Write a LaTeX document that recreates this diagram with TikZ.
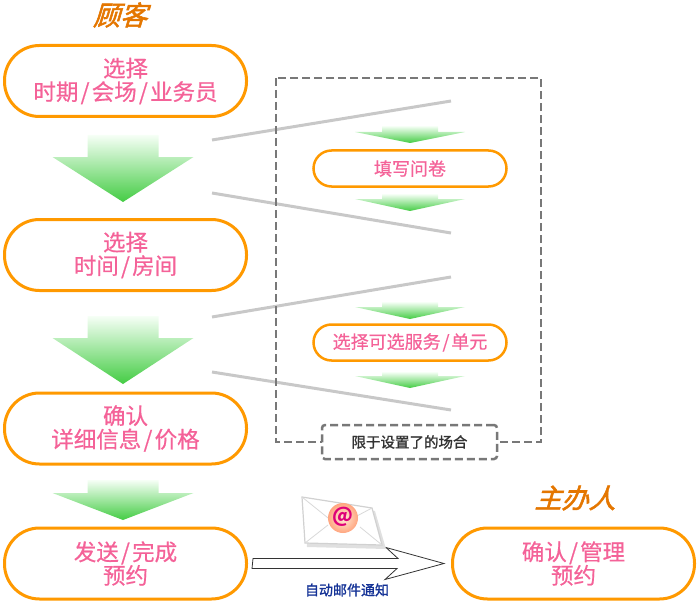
\documentclass[tikz,border=0pt]{standalone}
\usepackage{fontspec}
\setmainfont{Noto Sans CJK SC}
\newfontfamily\titlefont[FakeSlant=0.3,FakeBold=2]{Noto Sans CJK SC}
\newfontfamily\notefont[FakeBold=1.4]{Noto Sans CJK SC}
\newfontfamily\stepfont[FakeBold=0.6]{Noto Sans CJK SC}
\usepackage{tikz}

\definecolor{boxorange}{RGB}{255,153,0}
\definecolor{titleorange}{RGB}{228,118,0}
\definecolor{txtpink}{RGB}{244,98,152}
\definecolor{arrtop}{RGB}{246,255,246}
\definecolor{arrbot}{RGB}{68,204,68}
\definecolor{zoomgray}{RGB}{200,200,200}
\definecolor{dashgray}{RGB}{120,120,120}
\definecolor{mailblue}{RGB}{20,50,150}
\definecolor{sealmag}{RGB}{222,0,120}

\newcommand\sep{\kern.1em/\kern.1em}

\tikzset{
	stepbox/.style={draw=boxorange, line width=3pt, rounded corners=35pt, minimum width=242pt, minimum height=71pt, text=txtpink, align=center, font=\stepfont\fontsize{22.5}{23.5}\selectfont},
	substep/.style={draw=boxorange, line width=2.5pt, rounded corners=18pt, minimum width=193pt, minimum height=36pt, text=txtpink, font=\stepfont\fontsize{18}{20}\selectfont},
	role/.style={text=titleorange, font=\titlefont\fontsize{27}{29}\selectfont},
	zoomline/.style={draw=zoomgray, line width=3pt},
	dashbox/.style={draw=dashgray, line width=2.5pt, dash pattern=on 8pt off 4pt},
	mailarrow/.style={draw=black!80, line width=0.8pt, fill=white}
}

\begin{document}
\begin{tikzpicture}[x=1pt,y=-1pt]
	\useasboundingbox (0,0) rectangle (700,604);

	\node[role] (cust) at (120,15) {顾客};
	\node[role] (host) at (575,498) {主办人};

	\node[stepbox] (b1) at (125.5,81) {选择\\时期\sep 会场\sep 业务员};
	\node[stepbox] (b2) at (125.5,255) {选择\\时间\sep 房间};
	\node[stepbox] (b3) at (125.5,428.5) {确认\\详细信息\sep 价格};
	\node[stepbox] (b4) at (125.5,563.5) {发送\sep 完成\\预约};
	\node[stepbox] (org) at (573.5,563.5) {确认\sep 管理\\预约};

	% zoom lines
	\coordinate (z1a) at (212,140); \coordinate (z1b) at (451,101);
	\coordinate (z2a) at (212,193); \coordinate (z2b) at (451,233);
	\coordinate (z3a) at (212,317); \coordinate (z3b) at (451,277);
	\coordinate (z4a) at (212,372); \coordinate (z4b) at (451,410);
	\foreach \q in {1, ..., 4} {
		\draw[zoomline] (z\q a) -- (z\q b);
	}

	\draw[dashbox] (276,78) rectangle (541,442);
	\node[dashbox, fill=white, rounded corners=3pt, minimum width=175pt, minimum height=34pt, text=black!80, font=\notefont\fontsize{14.5}{16}\selectfont] (opt) at (409.5,442) {限于设置了的场合};

	\node[substep] (s1) at (410,168.5) {填写问卷};
	\node[substep] (s2) at (410,342.5) {选择可选服务\sep 单元};

	% green arrows: centre / stem / head / top / shoulder / tip
	\foreach \cx/\sw/\hw/\t/\h/\p in {
			123/35.5/70.5/135/157/202, 123/35.5/70.5/316/338/384, 123/35.5/70.5/480/493/520,
			410/28/55/126/132/143, 410/28/55/194/199/211,
			410/28/55/302/307/319, 410/28/55/372/376/388} {
		\shade[top color=arrtop, bottom color=arrbot] (\cx-\sw,\t) -- (\cx+\sw,\t) -- (\cx+\sw,\h) -- (\cx+\hw,\h)
			-- (\cx,\p) -- (\cx-\hw,\h) -- (\cx-\sw,\h) -- cycle;
	}

	\draw[mailarrow] (b4.east) ++(5,-5) -- ++(145,0) -- ++(-12,-11) -- ([xshift=-7pt]org.west)
		-- ++(-59,16) -- ++(12,-11) -- ++(-145,0) -- cycle;
	\node[text=mailblue, font=\notefont\fontsize{14}{15}\selectfont] (mail) at (347,590) {自动邮件通知};

	% envelope
	\fill[black!12] (304,500) -- (375,511) -- (386,549) -- (307,547) -- cycle;
	\draw[draw=black!18, fill=white, line width=1.2pt] (302,497) -- (372,508) -- (382,545) -- (305,543) -- cycle;
	\draw[black!15, line width=0.8pt] (302,497) -- (338,526) -- (372,508);
	\draw[black!15, line width=0.8pt] (305,543) -- (328,525) (382,545) -- (360,527);
	\shade[inner color=orange!15, outer color=red!40!orange!50] (343,518) circle (15);
	\node[text=sealmag, font=\bfseries\fontsize{20}{21}\selectfont, inner sep=0pt] (seal) at (343,517) {@};
\end{tikzpicture}
\end{document}
